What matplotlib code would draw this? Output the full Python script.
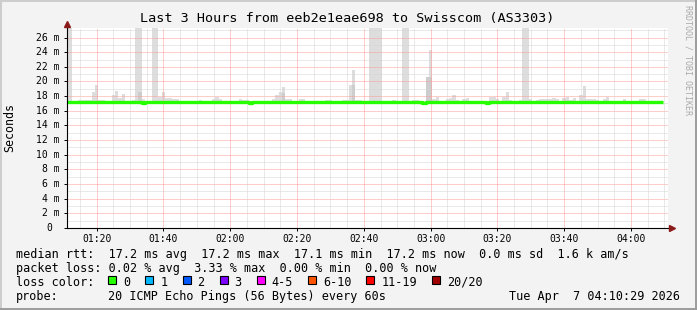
import matplotlib
matplotlib.use("Agg")
import matplotlib.pyplot as plt
from matplotlib.lines import Line2D
from matplotlib.patches import Rectangle
from matplotlib.transforms import offset_copy

# ---------------- data (times in minutes after 01:00, bins centred on the minute) ----------------
window_start = 11.1
window_end = 191.1

median_start = 11      # first minute of the median series
median_ms = [
    17.2, 17.2, 17.2, 17.2, 17.2, 17.2, 17.2, 17.2, 17.2, 17.2,
    17.2, 17.2, 17.2, 17.2, 17.2, 17.2, 17.2, 17.2, 17.2, 17.2,
    17.2, 17.2, 17.2, 17.1, 17.2, 17.2, 17.2, 17.2, 17.2, 17.2,
    17.2, 17.2, 17.2, 17.2, 17.2, 17.2, 17.2, 17.2, 17.2, 17.2,
    17.2, 17.2, 17.2, 17.2, 17.2, 17.2, 17.2, 17.2, 17.2, 17.2,
    17.2, 17.2, 17.2, 17.2, 17.2, 17.1, 17.2, 17.2, 17.2, 17.2,
    17.2, 17.2, 17.2, 17.2, 17.2, 17.2, 17.2, 17.2, 17.2, 17.2,
    17.2, 17.2, 17.2, 17.2, 17.2, 17.2, 17.2, 17.2, 17.2, 17.2,
    17.2, 17.2, 17.2, 17.2, 17.2, 17.2, 17.2, 17.2, 17.2, 17.2,
    17.2, 17.2, 17.2, 17.2, 17.2, 17.2, 17.2, 17.2, 17.2, 17.2,
    17.2, 17.2, 17.2, 17.2, 17.2, 17.2, 17.2, 17.1, 17.2, 17.2,
    17.2, 17.2, 17.2, 17.2, 17.2, 17.2, 17.2, 17.2, 17.2, 17.2,
    17.2, 17.2, 17.2, 17.2, 17.2, 17.2, 17.1, 17.2, 17.2, 17.2,
    17.2, 17.2, 17.2, 17.2, 17.2, 17.2, 17.2, 17.2, 17.2, 17.2,
    17.2, 17.2, 17.2, 17.2, 17.2, 17.2, 17.2, 17.2, 17.2, 17.2,
    17.2, 17.2, 17.2, 17.2, 17.2, 17.2, 17.2, 17.2, 17.2, 17.2,
    17.2, 17.2, 17.2, 17.2, 17.2, 17.2, 17.2, 17.2, 17.2, 17.2,
    17.2, 17.2, 17.2, 17.2, 17.2, 17.2, 17.2, 17.2, 17.2,
]

smoke_bottom = 17.0
smoke_minutes = [11, 12, 15, 16, 17, 18, 19, 20, 21, 22, 25, 26, 27, 28,
                 31, 32, 33, 34, 37, 38, 39, 40, 41, 42, 43, 44, 51,
                 55, 56, 57, 63, 64, 65, 73, 74, 75, 76, 77, 78, 81, 82, 83,
                 89, 90, 94, 95, 96, 97, 98, 99, 102, 103, 104, 105, 109,
                 112, 113, 114, 115, 116, 118, 119, 120, 121, 122,
                 125, 126, 127, 128, 130, 131, 137, 138, 139, 140,
                 142, 143, 144, 147, 148, 149, 150, 152, 153, 154, 155, 156,
                 157, 158, 160, 161, 162, 163, 165, 166, 167, 168, 169, 170,
                 172, 173, 178, 183, 184]
smoke_top = [30, 30, 17.5, 17.5, 17.5, 17.5, 18.6, 19.5, 17.5, 17.5, 18.1, 18.7, 17.8, 18.3,
             17.5, 30, 30, 17.6, 30, 30, 17.9, 18.5, 17.7, 17.7, 17.65, 17.65, 17.5,
             17.55, 17.9, 17.55, 17.6, 17.5, 17.5, 17.6, 18.1, 18.6, 19.3, 17.55, 17.55, 17.55, 17.55, 17.4,
             17.45, 17.45, 17.5, 17.5, 19.5, 21.5, 17.5, 17.5, 30, 30, 30, 30, 17.5,
             30, 30, 17.4, 17.5, 17.5, 17.4, 20.6, 24.3, 17.6, 17.9,
             17.55, 17.8, 18.1, 17.5, 17.6, 17.7, 17.4, 17.85, 17.85, 17.6,
             17.9, 18.6, 17.5, 17.5, 30, 30, 17.55, 17.5, 17.65, 17.55, 17.65, 17.65,
             17.75, 17.55, 17.7, 17.85, 17.5, 17.7, 18.1, 19.4, 17.6, 17.6, 17.6, 17.5,
             17.6, 17.85, 17.6, 17.55, 17.55]

inner_minutes = [33, 76, 97, 119, 120]
inner_top = [18.5, 18.4, 19.5, 20.6, 20.6]

y_ticks = [0, 2, 4, 6, 8, 10, 12, 14, 16, 18, 20, 22, 24, 26]
x_ticks = [20, 40, 60, 80, 100, 120, 140, 160, 180]
x_tick_labels = ["01:20", "01:40", "02:00", "02:20", "02:40", "03:00", "03:20", "03:40", "04:00"]

title = "Last 3 Hours from eeb2e1eae698 to Swisscom (AS3303)"
legend_rtt = "median rtt:  17.2 ms avg  17.2 ms max  17.1 ms min  17.2 ms now  0.0 ms sd  1.6 k am/s"
legend_loss = "packet loss: 0.02 % avg  3.33 % max  0.00 % min  0.00 % now"
loss_labels = ["0", "1", "2", "3", "4-5", "6-10", "11-19", "20/20"]
loss_colors = ["#26ff00", "#00b8ff", "#0059ff", "#7e00ff", "#ff00ff", "#ff5500", "#ff0000", "#a10000"]
probe_text = "20 ICMP Echo Pings (56 Bytes) every 60s"
date_text = "Tue Apr  7 04:10:29 2026"

# ---------------- figure ----------------
W, H = 697, 310
MONO = "DejaVu Sans Mono"
LFS = 8.5
fig = plt.figure(figsize=(W / 100, H / 100), dpi=100, facecolor="#f3f3f3")


def fx(px):
    return px / W


def fy(py):
    return 1 - py / H


L, R, T, B = 67, 668, 28, 228
ax = fig.add_axes([fx(L), fy(B), fx(R) - fx(L), fy(T) - fy(B)])
ax.set_facecolor("white")
ax.set_xlim(window_start, window_end)
ax.set_ylim(0, 27.3)

# smoke
ax.bar(smoke_minutes, [t - smoke_bottom for t in smoke_top], bottom=smoke_bottom,
       width=1.0, align="center", color="#dddddd", linewidth=0, zorder=2)
ax.bar(inner_minutes, [t - smoke_bottom for t in inner_top], bottom=smoke_bottom,
       width=1.0, align="center", color="#cdcdcd", linewidth=0, zorder=2.1)

# grid
for v in range(1, 28):
    major = v % 2 == 0
    ax.axhline(v, color="#ff9a9a" if major else "#d4d4d4", lw=0.72,
               ls=(0, (1, 1)), zorder=3)
for m in range(15, 191, 5):
    major = m % 20 == 0
    ax.axvline(m, color="#ff9a9a" if major else "#d4d4d4", lw=0.72,
               ls=(0, (1, 1)), zorder=3)

# median line
mx = [median_start + i for i in range(len(median_ms))]
ax.step([mx[0] - 0.5] + mx + [mx[-1] + 0.5], [median_ms[0]] + median_ms + [median_ms[-1]],
        where="mid", color="#26ff00", lw=2.4, zorder=5, solid_capstyle="butt")

# axes
for s in ["top", "right"]:
    ax.spines[s].set_visible(False)
for s in ["left", "bottom"]:
    ax.spines[s].set_color("black")
    ax.spines[s].set_linewidth(0.8)
    ax.spines[s].set_zorder(6)

ax.set_xticks(x_ticks)
ax.set_xticklabels(x_tick_labels, fontfamily=MONO, fontsize=7)
ax.set_yticks(y_ticks)
ax.set_yticklabels([])
ax.tick_params(axis="both", direction="out", length=2.5, width=0.7, color="black", pad=1.8)

ytrans = offset_copy(ax.get_yaxis_transform(), fig=fig, x=-7, y=0, units="dots")
ytrans0 = offset_copy(ax.get_yaxis_transform(), fig=fig, x=-14.5, y=0, units="dots")
for v in y_ticks:
    if v == 0:
        ax.text(0, v, "0", transform=ytrans0, ha="right", va="center",
                fontfamily=MONO, fontsize=7)
    else:
        ax.text(0, v, f"{v} m", transform=ytrans, ha="right", va="center",
                fontfamily=MONO, fontsize=7)

# arrows
ax.plot([0], [1.02], marker="^", color="#8b1a1a", markersize=4.5,
        transform=ax.transAxes, clip_on=False, zorder=7)
ax.plot([1.006], [0], marker=">", color="#8b1a1a", markersize=4.5,
        transform=ax.transAxes, clip_on=False, zorder=7)

# labels
fig.text(fx(347), fy(18.5), title, ha="center", va="center", fontfamily=MONO, fontsize=9.7)
fig.text(fx(10), fy(127), "Seconds", rotation=90, ha="center", va="center",
         fontfamily=MONO, fontsize=8.4)
fig.text(fx(688), fy(5), "RRDTOOL / TOBI OETIKER", rotation=270, ha="center", va="top",
         fontfamily=MONO, fontsize=6, color="#aaaaaa")

fig.text(fx(16), fy(254.5), legend_rtt, ha="left", va="center", fontfamily=MONO, fontsize=LFS)
fig.text(fx(16), fy(268.5), legend_loss, ha="left", va="center", fontfamily=MONO, fontsize=LFS)
fig.text(fx(16), fy(282), "loss color:", ha="left", va="center", fontfamily=MONO, fontsize=LFS)
pos = 108.3
for lab, col in zip(loss_labels, loss_colors):
    fig.patches.append(Rectangle((fx(pos), fy(284)), fx(8), 8 / H, transform=fig.transFigure,
                                 facecolor=col, edgecolor="black", linewidth=0.8))
    fig.text(fx(pos + 15), fy(282), lab, ha="left", va="center", fontfamily=MONO, fontsize=LFS)
    pos += 30 + 7.1 * len(lab)
fig.text(fx(16), fy(296.5), "probe:", ha="left", va="center", fontfamily=MONO, fontsize=LFS)
fig.text(fx(107.5), fy(296.5), probe_text, ha="left", va="center", fontfamily=MONO, fontsize=LFS)
fig.text(fx(680), fy(296.5), date_text, ha="right", va="center", fontfamily=MONO, fontsize=LFS)

# frame
fig.add_artist(Line2D([fx(0.7), fx(0.7)], [0, 1], color="#cccccc", lw=1.4, transform=fig.transFigure))
fig.add_artist(Line2D([0, 1], [fy(0.7), fy(0.7)], color="#cccccc", lw=1.4, transform=fig.transFigure))
fig.add_artist(Line2D([fx(696.3), fx(696.3)], [0, 1], color="#9c9c9c", lw=1.4, transform=fig.transFigure))
fig.add_artist(Line2D([0, 1], [fy(309.3), fy(309.3)], color="#9c9c9c", lw=1.4, transform=fig.transFigure))

fig.savefig("out.png", dpi=100, facecolor=fig.get_facecolor())
